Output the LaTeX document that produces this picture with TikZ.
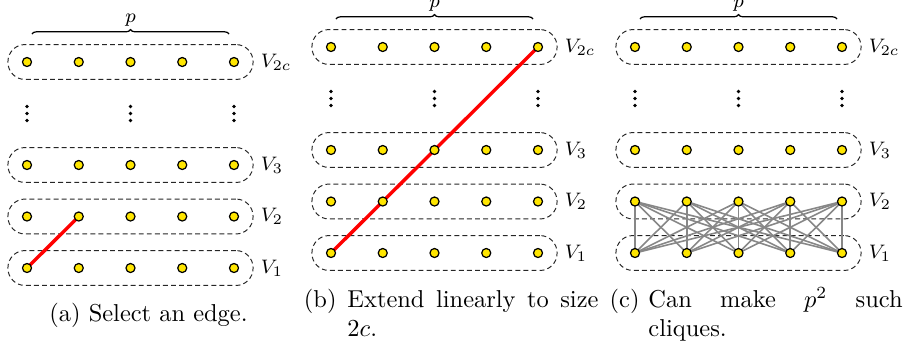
\documentclass[tikz,border=0pt]{standalone}
\usetikzlibrary{decorations.pathreplacing,calc}
\definecolor{vyel}{RGB}{255,230,0}
\definecolor{edgegray}{RGB}{135,135,135}
\pgfdeclarelayer{bg}\pgfsetlayers{bg,main}
\tikzset{
  vert/.style={circle, draw=black, fill=vyel, line width=0.5pt, inner sep=0pt, minimum size=3.7pt},
  grp/.style={draw=black!85, dash pattern=on 2pt off 1.3pt, line width=0.4pt, rounded corners=7pt,
              minimum width=100.3pt, minimum height=14.3pt, inner sep=0pt},
  vlab/.style={anchor=west, inner sep=0pt, font=\footnotesize, xshift=2.8pt},
  plab/.style={inner sep=0pt, font=\footnotesize},
  sel/.style={red, line width=1.4pt},
  cl/.style={edgegray, line width=0.65pt},
  brc/.style={decorate, decoration={brace, amplitude=1.8pt}, line width=0.5pt},
  dotm/.style={inner sep=0pt, circle, fill=black, minimum size=1.45pt},
  captxt/.style={inner sep=0pt},
}
\begin{document}
\begin{tikzpicture}[x=0.4092pt, y=-0.4092pt]
\useasboundingbox (0,0) rectangle (909,349);
% vertices
\foreach \P/\xo/\yb in {a/27/268, b/331/253, c/635/253} {
  \foreach \r/\dy in {1/0, 2/51.5, 3/103, c/206} {
    \foreach \i in {1,...,5} {
      \node[vert] (\P-\r-\i) at ({\xo+(\i-1)*51.75}, {\yb-\dy}) {};
    }
  }
  % vertical dots
  \foreach \i in {1,3,5} {
    \foreach \k in {-1,0,1} {
      \node[dotm] (\P-d-\i-\k) at ({\xo+(\i-1)*51.75}, {\yb-154.5+7*\k}) {};
    }
  }
  % brace and p
  \draw[brc] ($(\P-c-1.center)+(5,-28)$) -- ($(\P-c-5.center)+(-5,-28)$);
  \node[plab] (\P-p) at ($(\P-c-3.center)+(0,-41.5)$) {$p$};
}
\begin{pgfonlayer}{bg}
\foreach \P/\xo/\yb in {a/27/268, b/331/253, c/635/253} {
  \foreach \r/\dy/\lab in {1/0/1, 2/51.5/2, 3/103/3, c/206/2c} {
    \node[grp] (\P-g-\r) at ({\xo+103.5}, {\yb-\dy}) {};
    \node[vlab] (\P-l-\r) at (\P-g-\r.east) {$V_{\lab}$};
  }
}
\draw[sel] (a-1-1.center) -- (a-2-2.center);
\draw[sel] (b-1-1.center) -- (b-2-2.center) -- (b-3-3.center) -- (b-c-5.center);
\foreach \i in {1,...,5} {
  \foreach \j in {1,...,5} {
    \draw[cl] (c-1-\i.center) -- (c-2-\j.center);
  }
}
\end{pgfonlayer}
% captions
\node[captxt, anchor=base] (capa) at (148.5,321.7) {(a) Select an edge.};
\node[captxt, anchor=base east] (capbl) at (337,307) {(b)};
\node[captxt, anchor=base west] (capbt) at (347,307) {\parbox[t]{102.7pt}{Extend linearly to size\linebreak $2c$.}};
\node[captxt, anchor=base east] (capcl) at (640,307) {(c)};
\node[captxt, anchor=base west] (capct) at (648,307) {\parbox[t]{104pt}{Can make $p^2$ such\linebreak cliques.}};
\end{tikzpicture}
\end{document}
